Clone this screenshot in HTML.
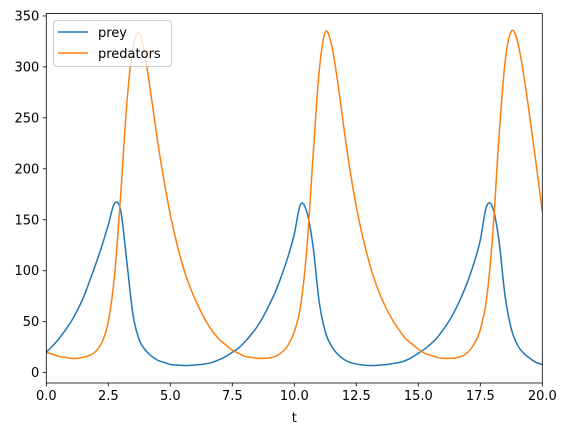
<!DOCTYPE html>
<html><head><meta charset="utf-8"><style>
html,body{margin:0;padding:0;background:#fff;width:567px;height:436px;overflow:hidden}
svg{display:block;font-family:"DejaVu Sans","Liberation Sans",sans-serif}
</style></head><body>
<svg id="chart" width="567" height="436" viewBox="0 0 567 436" xmlns="http://www.w3.org/2000/svg"></svg>
<script>
const tValues = [0,0.25,0.5,0.75,1,1.25,1.5,1.75,2,2.25,2.5,2.75,3,3.25,3.5,3.75,4,4.25,4.5,4.75,5,5.25,5.5,5.75,6,6.25,6.5,6.75,7,7.25,7.5,7.75,8,8.25,8.5,8.75,9,9.25,9.5,9.75,10,10.25,10.5,10.75,11,11.25,11.5,11.75,12,12.25,12.5,12.75,13,13.25,13.5,13.75,14,14.25,14.5,14.75,15,15.25,15.5,15.75,16,16.25,16.5,16.75,17,17.25,17.5,17.75,18,18.25,18.5,18.75,19,19.25,19.5,19.75,20];
const preyValues = [20,26,33,41,50,61,74,90,107,125,145,166,159,108,56,32,22,16,12,10,8,7.5,7,7,7.5,8,9,10.5,13,16,20,24,30,37,45,55,67,80,96,114,136,165,158,125,70,40,26,18,13,10,8.5,7.5,7,7,7.5,8,9,10,12,15,19,23,28,34,42,51,62,75,90,108,130,163,162,130,75,43,27,19,14,10,8];
const predatorValues = [20,18,16,15,14,14,15,17,21,30,50,95,175,265,320,333,308,268,225,188,155,128,105,87,72,59,48,39,32,27,22,19,16,15,14,14,14.5,16,20,27,40,65,120,210,295,334,322,285,240,198,163,134,110,90,74,61,50,41,33,28,23,19,17,15,14,14,14.5,16,20,28,42,72,135,230,305,335,325,292,250,205,158];
const xTicks = [0,2.5,5,7.5,10,12.5,15,17.5,20];
const xTickLabels = ["0.0","2.5","5.0","7.5","10.0","12.5","15.0","17.5","20.0"];
const yTicks = [0,50,100,150,200,250,300,350];

const L=46.3,R=542.3,T=13.5,B=383;
const xMin=0,xMax=20,yMin=-10.2,yMax=352.4;
function xs(v){return L+(v-xMin)/(xMax-xMin)*(R-L);}
function ys(v){return B-(v-yMin)/(yMax-yMin)*(B-T);}
const svg=document.getElementById('chart');
const NS='http://www.w3.org/2000/svg';
function mk(tag,attrs,parent){const e=document.createElementNS(NS,tag);for(const k in attrs)e.setAttribute(k,attrs[k]);(parent||svg).appendChild(e);return e;}

const clip=mk('clipPath',{id:'pc'});mk('rect',{x:L,y:T,width:R-L,height:B-T},clip);

function pathFor(vals){
  const p=tValues.map((t,i)=>[xs(t),ys(vals[i])]);
  let d='M'+p[0][0]+','+p[0][1];
  for(let i=0;i<p.length-1;i++){
    const p0=p[i-1]||p[i],p1=p[i],p2=p[i+1],p3=p[i+2]||p[i+1];
    const c1=[p1[0]+(p2[0]-p0[0])/6,p1[1]+(p2[1]-p0[1])/6];
    const c2=[p2[0]-(p3[0]-p1[0])/6,p2[1]-(p3[1]-p1[1])/6];
    d+=' C'+c1+' '+c2+' '+p2;
  }
  return d;
}
const prey=mk('path',{d:pathFor(preyValues),fill:'none',stroke:'#1f77b4','stroke-width':1.5,'clip-path':'url(#pc)'});


const pred=mk('path',{d:pathFor(predatorValues),fill:'none',stroke:'#ff7f0e','stroke-width':1.5,'clip-path':'url(#pc)'});



const frame=mk('rect',{x:L,y:T,width:R-L,height:B-T,fill:'none',stroke:'#000','stroke-width':0.8});



xTicks.forEach((v,i)=>{
  const x=xs(v);
  mk('line',{x1:x,x2:x,y1:B,y2:B+3.5,stroke:'#000','stroke-width':0.8});
  const t=mk('text',{x:x,y:B+17,'text-anchor':'middle','font-size':'13px',fill:'#000'});
  t.textContent=xTickLabels[i];
  
  
});
yTicks.forEach(v=>{
  const y=ys(v);
  mk('line',{x1:L,x2:L-3.5,y1:y,y2:y,stroke:'#000','stroke-width':0.8});
  const t=mk('text',{x:L-7,y:y+4.5,'text-anchor':'end','font-size':'13px',fill:'#000'});
  t.textContent=String(v);
  
  
});
const xt=mk('text',{x:(L+R)/2,y:422,'text-anchor':'middle','font-size':'13px',fill:'#000'});
xt.textContent='t';



const lg=mk('g',{});


mk('rect',{x:53.5,y:20.5,width:118,height:46,rx:3,fill:'#fff','fill-opacity':0.8,stroke:'#ccc','stroke-width':1},lg);
mk('line',{x1:58,x2:88,y1:32,y2:32,stroke:'#1f77b4','stroke-width':1.5},lg);
const l1=mk('text',{x:98,y:37,'font-size':'13px',fill:'#000'},lg);l1.textContent='prey';


mk('line',{x1:58,x2:88,y1:53,y2:53,stroke:'#ff7f0e','stroke-width':1.5},lg);
const l2=mk('text',{x:98,y:58,'font-size':'13px',fill:'#000'},lg);l2.textContent='predators';


</script>
</body></html>
